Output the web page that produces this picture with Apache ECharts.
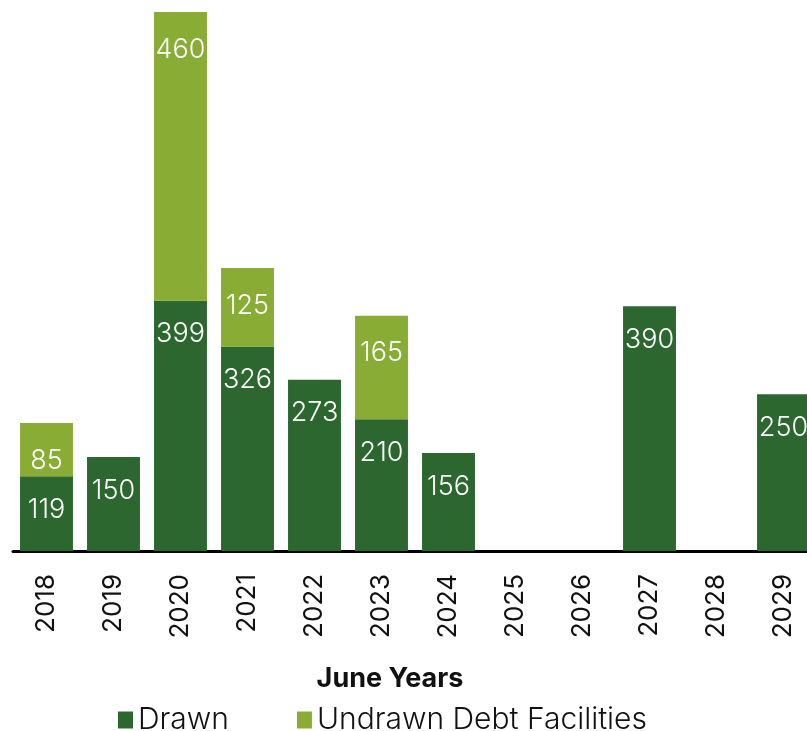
<!DOCTYPE html>
<html lang="en">
<head>
<meta charset="UTF-8">
<title>Debt maturity</title>
<style>
html, body { margin: 0; padding: 0; background: #fff; }
#main { width: 807px; height: 731px; }
</style>
</head>
<body>
<div id="main"></div>
<script src="https://cdn.jsdelivr.net/npm/echarts@6/dist/echarts.min.js"></script>
<script>
var years = ['2018', '2019', '2020', '2021', '2022', '2023', '2024', '2025', '2026', '2027', '2028', '2029'];
var drawn = [119, 150, 399, 326, 273, 210, 156, 0, 0, 390, 0, 250];
var undrawn = [85, 0, 460, 125, 0, 165, 0, 0, 0, 0, 0, 0];

var font = 'Inter';
var myChart = echarts.init(document.getElementById('main'));

// hide labels on empty stack pieces
function valueLabel(p) {
    return p.value ? String(p.value) : '';
}

var option = {
    animation: false,
    textStyle: { fontFamily: font },
    title: {
        text: 'June Years',
        left: 385,
        textAlign: 'center',
        top: 660,
        textStyle: { fontFamily: font, fontSize: 27, fontWeight: 'bold', color: '#111' }
    },
    legend: {
        data: ['Drawn', 'Undrawn Debt Facilities'],
        left: 113,
        top: 700,
        itemWidth: 15,
        itemHeight: 17,
        itemGap: 68,
        icon: 'rect',
        textStyle: { fontFamily: font, fontSize: 30, fontWeight: 300, color: '#111' }
    },
    grid: {
        left: 13,
        top: 12,
        width: 804,
        height: 539,
        outerBoundsMode: 'none'
    },
    xAxis: {
        type: 'category',
        data: years,
        axisLine: { lineStyle: { color: '#000', width: 3 } },
        axisTick: { show: false },
        axisLabel: {
            rotate: 90,
            margin: 23,
            fontSize: 26,
            color: '#111',
            fontFamily: font
        }
    },
    yAxis: {
        type: 'value',
        min: 0,
        max: 859,
        show: false,
        splitLine: { show: false }
    },
    series: [
        {
            name: 'Drawn',
            type: 'bar',
            stack: 'total',
            barCategoryGap: '21%',
            data: drawn,
            itemStyle: { color: '#2c6730' },
            label: {
                show: true,
                position: 'insideTop',
                distance: 20,
                color: '#fff',
                fontSize: 27,
                fontWeight: 300,
                fontFamily: font,
                formatter: valueLabel
            }
        },
        {
            name: 'Undrawn Debt Facilities',
            type: 'bar',
            stack: 'total',
            data: undrawn,
            itemStyle: { color: '#89ac34' },
            label: {
                show: true,
                position: 'insideTop',
                distance: 24,
                color: '#fff',
                fontSize: 27,
                fontWeight: 300,
                fontFamily: font,
                formatter: valueLabel
            }
        }
    ]
};

myChart.setOption(option);
</script>
</body>
</html>
